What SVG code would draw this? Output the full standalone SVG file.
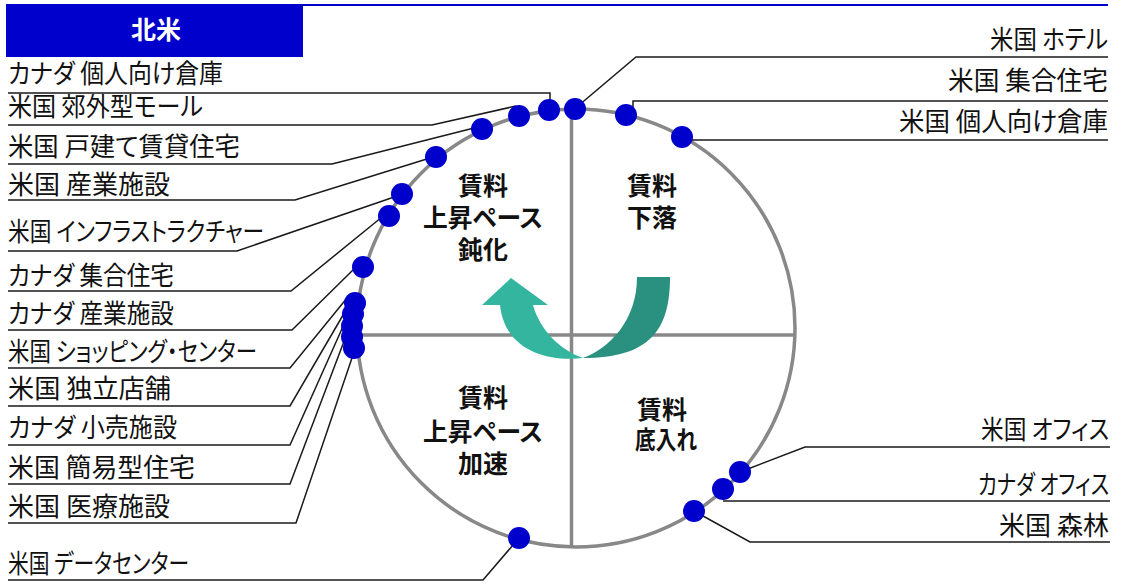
<svg xmlns="http://www.w3.org/2000/svg" width="1127" height="583" viewBox="0 0 1127 583">
<style>
.lbl{font-family:"Noto Sans CJK JP","Liberation Sans",sans-serif;font-size:26px;fill:#111;font-feature-settings:"palt" 1}
.q{font-family:"Noto Sans CJK JP","Liberation Sans",sans-serif;font-size:25px;font-weight:bold;fill:#111;text-anchor:middle;font-feature-settings:"palt" 1}
.r{text-anchor:end}
.ln{fill:none;stroke:#1a1a1a;stroke-width:1.5}
.dot{fill:#0000CC}
.ax{stroke:#888;stroke-width:3.5;fill:none}
</style>
<rect width="1127" height="583" fill="#fff"/>
<g id="header">
<line x1="6" y1="5" x2="1108" y2="5" stroke="#0000CC" stroke-width="2"/>
<rect x="6" y="5" width="297" height="52" fill="#0000CC"/>
<text x="156" y="39" font-family="Noto Sans CJK JP, Liberation Sans, sans-serif" font-size="25" font-weight="bold" fill="#fff" text-anchor="middle">北米</text>
</g>
<g id="cycle">
<line class="ax" x1="571.5" y1="110" x2="571.5" y2="546"/>
<line class="ax" x1="357" y1="335" x2="795" y2="335"/>
<circle class="ax" cx="576" cy="328" r="219"/>
<path d="M670,277 C670,330 650,358 583,358 C610,348 637,320 637,277 Z" fill="#2A9080"/>
<path d="M583,358 C550,362 505,352 500,305 L482,305 L511,278 L548,305 L533,305 C540,330 560,350 583,358 Z" fill="#33B5A0"/>
<text class="q"><tspan x="483" y="195">賃料</tspan><tspan x="483" y="227" textLength="120" lengthAdjust="spacingAndGlyphs">上昇ペース</tspan><tspan x="483" y="259">鈍化</tspan></text>
<text class="q"><tspan x="652" y="195">賃料</tspan><tspan x="652" y="227">下落</tspan></text>
<text class="q"><tspan x="483" y="407">賃料</tspan><tspan x="483" y="441" textLength="120" lengthAdjust="spacingAndGlyphs">上昇ペース</tspan><tspan x="483" y="473">加速</tspan></text>
<text class="q"><tspan x="662" y="419">賃料</tspan><tspan x="666" y="449" textLength="62" lengthAdjust="spacingAndGlyphs">底入れ</tspan></text>
</g>
<g id="connectors">
<polyline class="ln" points="8,93 550,93 550,102"/>
<polyline class="ln" points="8,125 432,125 516,106"/>
<polyline class="ln" points="8,164 332,164 474,128"/>
<polyline class="ln" points="8,200 295,200 430,158"/>
<polyline class="ln" points="8,251 237,251 400,195"/>
<polyline class="ln" points="8,291 291,291 382,217"/>
<polyline class="ln" points="8,330 292,330 355,268"/>
<polyline class="ln" points="8,368 290,368 347,298"/>
<polyline class="ln" points="8,406 290,406 346,310"/>
<polyline class="ln" points="8,445 290,445 345,322"/>
<polyline class="ln" points="8,484 290,484 346,336"/>
<polyline class="ln" points="8,523 296,523 353,355"/>
<polyline class="ln" points="8,580 483,580 519,538"/>
<polyline class="ln" points="578,106 636,57 1108,57"/>
<polyline class="ln" points="633,108 633,101 1108,101"/>
<polyline class="ln" points="682,140 1108,140"/>
<polyline class="ln" points="740,472 805,447 1110,447"/>
<polyline class="ln" points="723,501 1110,501"/>
<polyline class="ln" points="694,511 750,542 1110,542"/>
</g>
<g id="n-ca-warehouse"><text class="lbl" x="8" y="83" textLength="215" lengthAdjust="spacingAndGlyphs">カナダ 個人向け倉庫</text><circle class="dot" cx="549" cy="110" r="11"/></g>
<g id="n-us-mall"><text class="lbl" x="8" y="116" textLength="195" lengthAdjust="spacingAndGlyphs">米国 郊外型モール</text><circle class="dot" cx="519" cy="116" r="11"/></g>
<g id="n-us-sfr"><text class="lbl" x="8" y="156" textLength="232" lengthAdjust="spacingAndGlyphs">米国 戸建て賃貸住宅</text><circle class="dot" cx="482" cy="129" r="11"/></g>
<g id="n-us-industrial"><text class="lbl" x="8" y="194" textLength="162" lengthAdjust="spacingAndGlyphs">米国 産業施設</text><circle class="dot" cx="436" cy="157" r="11"/></g>
<g id="n-us-infra"><text class="lbl" x="8" y="241" textLength="256" lengthAdjust="spacingAndGlyphs">米国 インフラストラクチャー</text><circle class="dot" cx="402" cy="194" r="11"/></g>
<g id="n-ca-multifamily"><text class="lbl" x="8" y="285" textLength="166" lengthAdjust="spacingAndGlyphs">カナダ 集合住宅</text><circle class="dot" cx="389" cy="216" r="11"/></g>
<g id="n-ca-industrial"><text class="lbl" x="8" y="323" textLength="166" lengthAdjust="spacingAndGlyphs">カナダ 産業施設</text><circle class="dot" cx="363" cy="267" r="11"/></g>
<g id="n-us-shopping"><text class="lbl" x="8" y="361" textLength="249" lengthAdjust="spacingAndGlyphs">米国 ショッピング・センター</text><circle class="dot" cx="355" cy="303" r="11"/></g>
<g id="n-us-freestanding"><text class="lbl" x="8" y="398" textLength="163" lengthAdjust="spacingAndGlyphs">米国 独立店舗</text><circle class="dot" cx="353" cy="314" r="11"/></g>
<g id="n-ca-retail"><text class="lbl" x="8" y="437" textLength="169" lengthAdjust="spacingAndGlyphs">カナダ 小売施設</text><circle class="dot" cx="352" cy="326" r="11"/></g>
<g id="n-us-manufactured"><text class="lbl" x="8" y="477" textLength="187" lengthAdjust="spacingAndGlyphs">米国 簡易型住宅</text><circle class="dot" cx="352" cy="337" r="11"/></g>
<g id="n-us-medical"><text class="lbl" x="8" y="516" textLength="162" lengthAdjust="spacingAndGlyphs">米国 医療施設</text><circle class="dot" cx="354" cy="348" r="11"/></g>
<g id="n-us-datacenter"><text class="lbl" x="8" y="573" textLength="181" lengthAdjust="spacingAndGlyphs">米国 データセンター</text><circle class="dot" cx="519" cy="538" r="11"/></g>
<g id="n-us-hotel"><text class="lbl r" x="1108" y="49" textLength="118" lengthAdjust="spacingAndGlyphs">米国 ホテル</text><circle class="dot" cx="575" cy="109" r="11"/></g>
<g id="n-us-multifamily"><text class="lbl r" x="1108" y="90" textLength="160" lengthAdjust="spacingAndGlyphs">米国 集合住宅</text><circle class="dot" cx="626" cy="115" r="11"/></g>
<g id="n-us-warehouse"><text class="lbl r" x="1108" y="131" textLength="209" lengthAdjust="spacingAndGlyphs">米国 個人向け倉庫</text><circle class="dot" cx="682" cy="137" r="11"/></g>
<g id="n-us-office"><text class="lbl r" x="1109" y="439" textLength="128" lengthAdjust="spacingAndGlyphs">米国 オフィス</text><circle class="dot" cx="740" cy="472" r="11"/></g>
<g id="n-ca-office"><text class="lbl r" x="1109" y="494" textLength="131" lengthAdjust="spacingAndGlyphs">カナダ オフィス</text><circle class="dot" cx="723" cy="489" r="11"/></g>
<g id="n-us-forest"><text class="lbl r" x="1109" y="535" textLength="110" lengthAdjust="spacingAndGlyphs">米国 森林</text><circle class="dot" cx="694" cy="511" r="11"/></g>
</svg>
